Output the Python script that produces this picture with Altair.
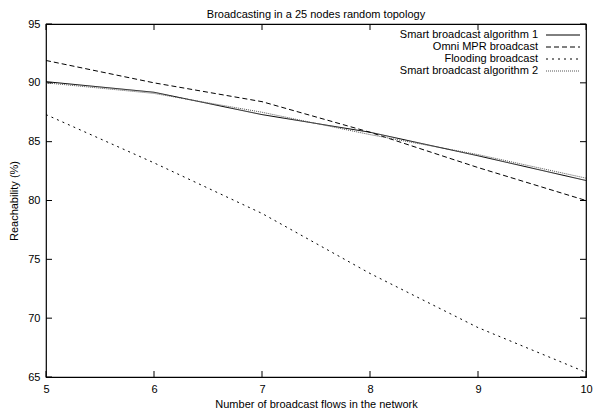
import altair as alt
import pandas as pd

flows = [5, 6, 7, 8, 9, 10]
series_names = ["Smart broadcast algorithm 1", "Omni MPR broadcast",
                "Flooding broadcast", "Smart broadcast algorithm 2"]
smart1 = [90.1, 89.2, 87.3, 85.8, 83.8, 81.7]
omni = [91.9, 90.0, 88.4, 85.8, 82.8, 80.0]
flooding = [87.3, 83.2, 78.9, 73.8, 69.2, 65.4]
smart2 = [90.0, 89.1, 87.5, 85.6, 83.9, 81.9]
y_ticks = [65, 70, 75, 80, 85, 90, 95]
x_ticks = [5, 6, 7, 8, 9, 10]

W, H = 540, 353
FONT = "Liberation Sans"
FS = 11

rows = []
for name, vals in zip(series_names, [smart1, omni, flooding, smart2]):
    for x, v in zip(flows, vals):
        rows.append({"flows": x, "reach": v, "series": name})
df = pd.DataFrame(rows)

dashes = [[1, 0], [5, 3], [2, 4], [1, 1]]
colors = ["black", "black", "black", "#555555"]

xscale = alt.Scale(domain=[5, 10], nice=False, zero=False)
yscale = alt.Scale(domain=[65, 95], nice=False, zero=False)

xaxis = alt.Axis(title="Number of broadcast flows in the network",
                 values=x_ticks, ticks=False, domain=False, grid=False,
                 labelFlush=False, labelPadding=6, titlePadding=4, format="d")
yaxis = alt.Axis(title="Reachability (%)", values=y_ticks, ticks=False,
                 domain=False, grid=False, labelPadding=6, titlePadding=8)

lines = alt.Chart(df).mark_line(strokeWidth=1).encode(
    x=alt.X("flows:Q", scale=xscale, axis=xaxis),
    y=alt.Y("reach:Q", scale=yscale, axis=yaxis),
    strokeDash=alt.StrokeDash("series:N", scale=alt.Scale(domain=series_names, range=dashes),
                              legend=None),
    color=alt.Color("series:N", scale=alt.Scale(domain=series_names, range=colors),
                    legend=None),
)

ydf = pd.DataFrame({"reach": y_ticks})
xdf = pd.DataFrame({"flows": x_ticks})
tl = 6
tick_layers = [
    alt.Chart(ydf).mark_rule(color="black").encode(
        y=alt.Y("reach:Q", scale=yscale, axis=yaxis), x=alt.value(0), x2=alt.value(tl)),
    alt.Chart(ydf).mark_rule(color="black").encode(
        y=alt.Y("reach:Q", scale=yscale, axis=yaxis), x=alt.value(W), x2=alt.value(W - tl)),
    alt.Chart(xdf).mark_rule(color="black").encode(
        x=alt.X("flows:Q", scale=xscale, axis=xaxis), y=alt.value(H), y2=alt.value(H - tl)),
    alt.Chart(xdf).mark_rule(color="black").encode(
        x=alt.X("flows:Q", scale=xscale, axis=xaxis), y=alt.value(0), y2=alt.value(tl)),
]

legend_layers = []
for i, name in enumerate(series_names):
    ldf = pd.DataFrame({"name": [name]})
    yy = 11 + 12 * i
    legend_layers.append(
        alt.Chart(ldf).mark_text(align="right", baseline="middle", font=FONT,
                                 fontSize=FS, color="black").encode(
            text="name:N", x=alt.value(492), y=alt.value(yy)))
    legend_layers.append(
        alt.Chart(ldf).mark_rule(strokeWidth=1, strokeDash=dashes[i],
                                 color=colors[i]).encode(
            x=alt.value(500), x2=alt.value(534), y=alt.value(yy)))

chart = alt.layer(lines, *tick_layers, *legend_layers).properties(
    width=W, height=H,
    title=alt.TitleParams("Broadcasting in a 25 nodes random topology",
                          font=FONT, fontSize=FS, fontWeight="normal",
                          anchor="middle", offset=-2),
    autosize=alt.AutoSizeParams(type="none"),
    padding={"left": 38, "top": 16, "right": 8, "bottom": 32},
).configure_view(stroke="black", strokeWidth=1.2).configure_axis(
    labelFont=FONT, labelFontSize=FS, titleFont=FONT, titleFontSize=FS,
    titleFontWeight="normal", labelColor="black", titleColor="black",
)

chart.save("out.html", embed_options={"renderer": "svg", "actions": False})
